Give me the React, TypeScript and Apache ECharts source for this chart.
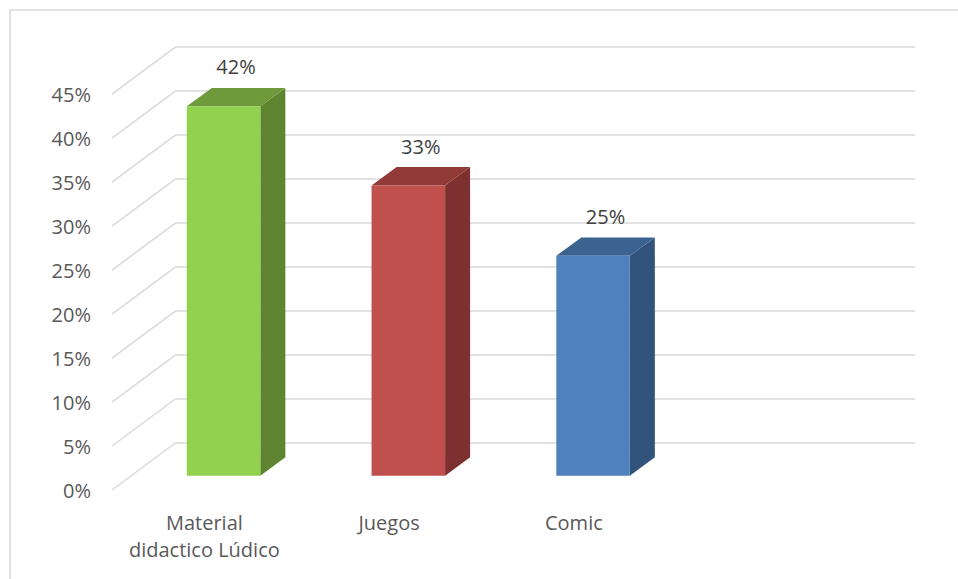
import React, { useEffect, useRef } from "react";
import * as echarts from "echarts";

const categories = ["Material didactico Lúdico", "Juegos", "Comic", ""];
const values = [42, 33, 25];
const yTicks = [0, 5, 10, 15, 20, 25, 30, 35, 40, 45];

const frontColors = ["#92D050", "#C0504D", "#4F81BD"];
const topColors = ["#6E9A3C", "#913A38", "#3C6290"];
const sideColors = ["#5E842F", "#7C302F", "#32547C"];

const FONT = '"Open Sans", "Noto Sans", sans-serif';
const FS = 20;
const WALL_DX = -64;
const WALL_DY = 47.5;
const BAR_FRONT = 0.7;
const BAR_DX = 25;
const BAR_DY = -18.4;

export default function App() {
  const ref = useRef<HTMLDivElement>(null);
  useEffect(() => {
    if (!ref.current) return;
    const chart = echarts.init(ref.current, null, { renderer: "svg" });
    chart.setOption({
      animation: false,
      backgroundColor: "#ffffff",
      graphic: [
        {
          type: "rect",
          shape: { x: 10, y: 10, width: 1000, height: 1000 },
          style: { fill: "none", stroke: "#d9d9d9", lineWidth: 1.5 },
          silent: true,
        },
      ],
      grid: [
        { left: 176, right: 43, top: 46.7, bottom: 136.5 },
        { left: 112, right: 107, top: 94.2, bottom: 89 },
      ],
      xAxis: [
        {
          gridIndex: 0,
          type: "category",
          data: categories,
          axisLine: { show: false },
          axisTick: { show: false },
          axisLabel: { show: false },
          splitLine: { show: false },
        },
        {
          gridIndex: 1,
          type: "category",
          data: categories,
          axisLine: { show: false },
          axisTick: { show: false },
          splitLine: { show: false },
          axisLabel: {
            interval: 0,
            margin: 19,
            color: "#595959",
            fontSize: FS,
            fontFamily: FONT,
            lineHeight: 27,
            formatter: (v: string) => (v.length > 18 ? v.replace(" ", "\n") : v),
          },
        },
      ],
      yAxis: [
        {
          gridIndex: 0,
          type: "value",
          min: 0,
          max: 45,
          interval: 5,
          axisLine: { show: false },
          axisTick: { show: false },
          axisLabel: { show: false },
          splitLine: { show: true, lineStyle: { color: "#d9d9d9", width: 1.5 } },
        },
        {
          gridIndex: 1,
          type: "value",
          min: 0,
          max: 45,
          interval: 5,
          axisLine: { show: false },
          axisTick: { show: false },
          splitLine: { show: false },
          axisLabel: {
            margin: 21,
            color: "#595959",
            fontSize: FS,
            fontFamily: FONT,
            formatter: "{value}%",
          },
        },
      ],
      series: [
        {
          type: "custom",
          xAxisIndex: 0,
          yAxisIndex: 0,
          silent: true,
          data: yTicks.map((v) => [0, v]),
          encode: { x: 0, y: 1 },
          renderItem: (params: any, api: any) => {
            const p = api.coord([0, api.value(1)]);
            const x0 = params.coordSys.x;
            return {
              type: "line",
              shape: { x1: x0, y1: p[1], x2: x0 + WALL_DX, y2: p[1] + WALL_DY },
              style: { stroke: "#d9d9d9", lineWidth: 1.5 },
            };
          },
          z: 1,
        },
        {
          type: "custom",
          xAxisIndex: 0,
          yAxisIndex: 0,
          silent: true,
          data: values.map((v, i) => [i, v]),
          encode: { x: 0, y: 1 },
          renderItem: (params: any, api: any) => {
            const idx = api.value(0);
            const val = api.value(1);
            const top = api.coord([idx, val]);
            const base = api.coord([idx, 0]);
            const bw = api.size([1, 0])[0] * 0.398;
            const fx = top[0] + WALL_DX * BAR_FRONT;
            const yT = top[1] + WALL_DY * BAR_FRONT;
            const yB = base[1] + WALL_DY * BAR_FRONT;
            const l = fx - bw / 2;
            const r = fx + bw / 2;
            return {
              type: "group",
              children: [
                {
                  type: "polygon",
                  shape: {
                    points: [
                      [r, yT],
                      [r + BAR_DX, yT + BAR_DY],
                      [r + BAR_DX, yB + BAR_DY],
                      [r, yB],
                    ],
                  },
                  style: { fill: sideColors[idx] },
                },
                {
                  type: "polygon",
                  shape: {
                    points: [
                      [l, yT],
                      [l + BAR_DX, yT + BAR_DY],
                      [r + BAR_DX, yT + BAR_DY],
                      [r, yT],
                    ],
                  },
                  style: { fill: topColors[idx] },
                },
                {
                  type: "rect",
                  shape: { x: l, y: yT, width: bw, height: yB - yT },
                  style: { fill: frontColors[idx] },
                },
                {
                  type: "text",
                  style: {
                    text: val + "%",
                    x: fx + BAR_DX / 2,
                    y: yT + BAR_DY - 21,
                    fill: "#404040",
                    fontSize: FS,
                    fontFamily: FONT,
                    align: "center",
                    verticalAlign: "middle",
                  },
                },
              ],
            };
          },
          z: 3,
        },
      ],
    });
    return () => chart.dispose();
  }, []);
  return (
    <div
      ref={ref}
      style={{ position: "fixed", left: 0, top: 0, width: 958, height: 579, background: "#fff" }}
    />
  );
}
